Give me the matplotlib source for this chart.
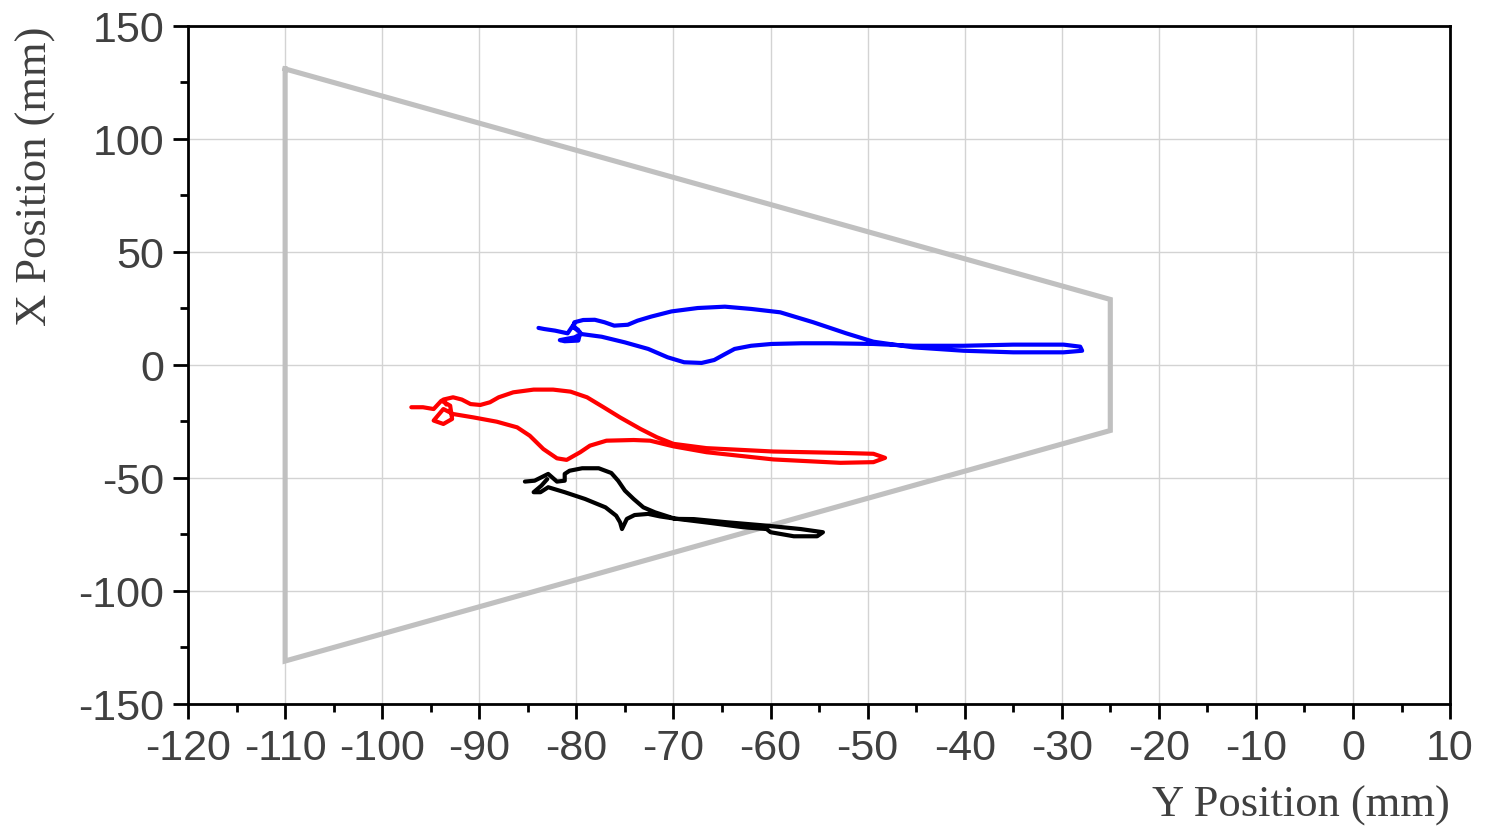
import matplotlib
matplotlib.use("Agg")
import matplotlib.pyplot as plt
from matplotlib.ticker import MultipleLocator

plt.rcParams['axes.unicode_minus'] = False

# workspace boundary (Y, X) in mm
bound_y = [-110, -25, -25, -110, -110]
bound_x = [131, 29, -29, -131, 131]

# blue trajectory
blue_y = [-83.9, -83.3, -82.2, -80.9, -80.2, -80.3, -79.6, -79.8, -81.2, -81.7, -80.2,
          -79.5, -77.4, -75.0, -72.6, -70.6, -68.9, -67.1, -65.8, -64.7, -63.7, -62.0, -59.9,
          -56.8, -53.9, -49.4, -45.3, -40.1, -35.0, -29.8, -28.1, -27.9, -29.8, -35.0, -40.1,
          -45.3, -49.4, -52.2, -55.6, -59.0, -62.0, -64.7, -67.5, -70.2, -72.3, -73.7, -74.7,
          -76.1, -77.1, -78.1, -79.3, -80.2, -80.3, -79.8]
blue_x = [16.4, 15.9, 15.2, 14.0, 18.4, 16.7, 14.4, 10.8, 10.5, 11.0, 12.2,
          13.7, 12.5, 10.0, 7.1, 3.4, 1.2, 0.9, 2.2, 4.8, 7.1, 8.5, 9.3,
          9.6, 9.6, 9.3, 8.5, 8.5, 9.0, 9.0, 8.1, 6.3, 5.6, 5.6, 6.3,
          7.8, 10.3, 14.0, 18.9, 23.3, 24.8, 25.8, 25.2, 23.7, 21.4, 19.6, 17.8,
          17.4, 18.9, 20.0, 19.9, 18.9, 17.0, 15.5]

# red trajectory
red_y = [-97.0, -95.8, -94.7, -93.9, -93.0, -92.8, -93.7, -94.7, -93.7, -92.7,
         -90.6, -88.2, -86.1, -84.8, -83.4, -82.0, -81.0, -79.6, -78.6, -76.9, -74.1, -72.4,
         -70.0, -66.6, -59.7, -52.8, -49.4, -48.2, -49.4, -52.8, -59.7, -66.6, -70.0, -71.7,
         -73.4, -75.5, -77.2, -78.9, -80.6, -82.4, -84.4, -86.5, -88.0, -88.9, -89.9, -90.9,
         -91.8, -92.7, -93.7, -93.4]
red_x = [-18.7, -18.7, -19.5, -15.8, -18.0, -23.9, -26.1, -24.6, -19.5, -21.7,
         -23.2, -25.1, -27.6, -31.3, -37.2, -41.3, -42.0, -38.6, -35.7, -33.5, -33.2, -33.5,
         -36.0, -38.6, -41.8, -43.3, -43.0, -41.1, -39.3, -38.9, -38.3, -36.8, -34.9, -32.0,
         -28.3, -23.2, -18.7, -14.3, -11.8, -10.9, -10.9, -12.1, -14.3, -16.5, -17.7, -17.3,
         -15.3, -14.3, -15.3, -17.5]

# black trajectory
black_y = [-85.3, -84.3, -82.9, -82.0, -81.2, -81.2, -80.7, -79.4, -77.7, -76.4, -75.7,
           -75.0, -74.1, -73.1, -71.9, -69.8, -67.9, -64.5, -60.4, -56.9, -54.6, -55.2, -57.6,
           -60.0, -60.4, -62.8, -66.2, -70.0, -71.4, -72.6, -74.0, -74.8, -75.3, -75.5, -75.9,
           -77.0, -79.1, -81.2, -82.9, -83.7, -84.4, -83.6, -83.0]
black_x = [-51.6, -51.2, -48.2, -51.6, -51.2, -48.2, -46.8, -45.7, -45.7, -47.8, -51.2,
           -55.6, -59.3, -63.0, -65.2, -68.1, -68.2, -69.6, -71.1, -72.6, -74.0, -75.8, -75.8,
           -74.0, -72.6, -71.8, -69.9, -67.9, -67.0, -65.9, -66.4, -68.1, -72.6, -69.6, -66.7,
           -63.0, -59.3, -56.3, -54.1, -56.3, -56.3, -53.4, -50.5]

fig = plt.figure(figsize=(14.96, 8.28), dpi=100)
ax = fig.add_axes([0.1257, 0.1486, 0.8436, 0.8188])

ax.plot(bound_y, bound_x, color="#c0c0c0", lw=3.7, solid_joinstyle="miter", zorder=2)
for ys, xs, c in [(blue_y, blue_x, "#0000ff"), (red_y, red_x, "#ff0000"),
                  (black_y, black_x, "#000000")]:
    ax.plot(ys, xs, color=c, lw=3.0, solid_joinstyle="round",
            solid_capstyle="round", zorder=3)

ax.set_xlim(-120, 10)
ax.set_ylim(-150, 150)
ax.xaxis.set_major_locator(MultipleLocator(10))
ax.xaxis.set_minor_locator(MultipleLocator(5))
ax.yaxis.set_major_locator(MultipleLocator(50))
ax.yaxis.set_minor_locator(MultipleLocator(25))
ax.grid(True, which="major", color="#d3d3d3", lw=1.0, zorder=0)

for s in ax.spines.values():
    s.set_linewidth(2.0)
ax.tick_params(which="major", direction="out", length=11, width=2,
               labelsize=31, labelcolor="#404040", pad=6)
ax.tick_params(which="minor", direction="out", length=6, width=2)
for lab in ax.get_xticklabels() + ax.get_yticklabels():
    lab.set_family("Liberation Sans")

ax.set_xlabel("Y Position (mm)", family="Liberation Serif", fontsize=32,
              color="#404040", loc="right", labelpad=12)
ax.set_ylabel("X Position (mm)", family="Liberation Serif", fontsize=32,
              color="#404040", loc="top", labelpad=16)

fig.savefig("out.png", dpi=100)
